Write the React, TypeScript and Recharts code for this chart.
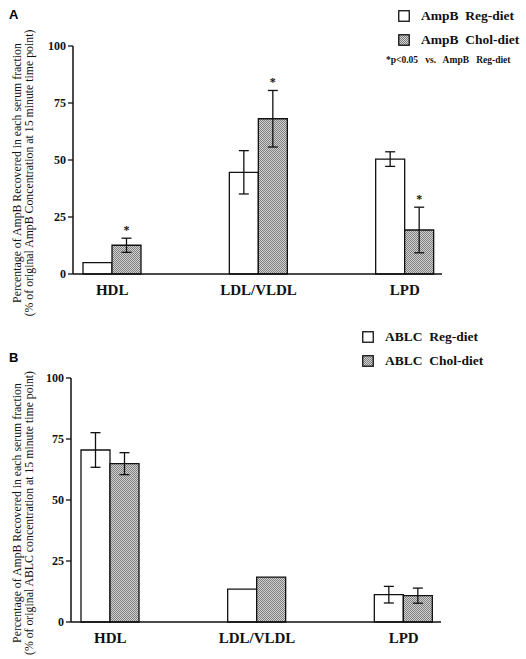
import {Bar, BarChart, ErrorBar, LabelList, XAxis, YAxis} from 'recharts';

const fractions = ['HDL', 'LDL/VLDL', 'LPD'];
const yTicks = [0, 25, 50, 75, 100];

// panel A (AmpB)
const ampbReg = [5, 44.6, 50.4];
const ampbRegErr = [null, 9.5, 3.2];
const ampbChol = [12.6, 68.1, 19.3];
const ampbCholErr = [3.1, 12.4, 10];
const ampbCholSig = [true, true, true];

// panel B (ABLC)
const ablcReg = [70.5, 13.5, 11.2];
const ablcRegErr = [7.1, null, 3.4];
const ablcChol = [64.9, 18.4, 10.8];
const ablcCholErr = [4.5, null, 3.1];
const ablcCholSig = [false, false, false];

const SERIF = '"Liberation Serif", "Times New Roman", serif';

const buildRows = (reg: number[], regErr: (number | null)[], chol: number[], cholErr: (number | null)[], sig: boolean[]) =>
  fractions.map((name, i) => ({
    name,
    reg: reg[i],
    regErr: regErr[i],
    chol: chol[i],
    cholErr: cholErr[i],
    sig: sig[i],
  }));

const panelA = buildRows(ampbReg, ampbRegErr, ampbChol, ampbCholErr, ampbCholSig);
const panelB = buildRows(ablcReg, ablcRegErr, ablcChol, ablcCholErr, ablcCholSig);

function YLabel(line1: string, line2: string) {
  return (props: any) => {
    const vb = props.viewBox;
    const cy = vb.y + vb.height / 2 + 13;
    const x1 = 21;
    const x2 = 33;
    return (
      <g fontFamily={SERIF} fontSize={11.8} fill="#111">
        <text x={x1} y={cy} textAnchor="middle" transform={`rotate(-90, ${x1}, ${cy})`}>{line1}</text>
        <text x={x2} y={cy} textAnchor="middle" transform={`rotate(-90, ${x2}, ${cy})`}>{line2}</text>
      </g>
    );
  };
}

function Asterisk(rows: typeof panelA) {
  return (props: any) => {
    const {x, y, width, height, index} = props;
    const row = rows[index];
    if (!row || !row.sig || !row.chol) return null;
    const perUnit = height / row.chol;
    const top = y - (row.cholErr ?? 0) * perUnit;
    return (
      <text x={x + width / 2} y={top - 4} textAnchor="middle" fontFamily={SERIF} fontWeight="bold" fontSize={12} fill="#111">*</text>
    );
  };
}

function LegendBox({labels, note, top, left}: {labels: string[]; note?: string; top: number; left: number}) {
  return (
    <div style={{position: 'absolute', top, left, fontFamily: SERIF, fontWeight: 'bold', fontSize: 13.5, color: '#111'}}>
      {labels.map((lab, i) => (
        <div key={lab} style={{display: 'flex', alignItems: 'center', height: 24}}>
          <svg width={12} height={12} style={{marginRight: 11}}>
            <rect x={0.75} y={0.75} width={10.5} height={10.5} fill={i === 0 ? '#fff' : 'url(#hatch)'} stroke="#111" strokeWidth={1.3} />
          </svg>
          <span style={{whiteSpace: 'pre'}}>{lab}</span>
        </div>
      ))}
      {note && (
        <div style={{fontSize: 9.5, marginTop: 3, marginLeft: -12, whiteSpace: 'pre'}}>{note}</div>
      )}
    </div>
  );
}

function Panel({rows, letter, label2, legend, note, top, height, legendTop, legendLeft}: any) {
  const isA = letter === 'A';
  return (
    <div style={{position: 'absolute', left: 0, top, width: 526, height}}>
      <div style={{position: 'absolute', left: 9, top: isA ? 7 : 20, fontFamily: '"Liberation Sans", Arial, sans-serif', fontWeight: 'bold', fontSize: 13}}>{letter}</div>
      <BarChart
        width={526}
        height={height}
        data={rows}
        margin={{top: isA ? 46 : 48, right: isA ? 84 : 85, left: 0, bottom: isA ? 26 : 7}}
        barGap={0}
        barSize={29}
      >
        <defs>
          <pattern id="hatch" width={2} height={2} patternUnits="userSpaceOnUse">
            <rect width={2} height={2} fill="#d2d2d2" />
            <rect width={1} height={1} fill="#7e7e7e" />
            <rect x={1} y={1} width={1} height={1} fill="#7e7e7e" />
          </pattern>
        </defs>
        <XAxis
          dataKey="name"
          axisLine={{stroke: '#111', strokeWidth: 1.5}}
          tickLine={false}
          tickMargin={4}
          height={30}
          padding={{left: -34, right: -36}}
          tick={{fontFamily: SERIF, fontWeight: 'bold', fontSize: 15, fill: '#111'}}
        />
        <YAxis
          width={isA ? 73 : 71}
          domain={[0, 100]}
          ticks={yTicks}
          interval={0}
          axisLine={{stroke: '#111', strokeWidth: 1.5}}
          tickLine={{stroke: '#111', strokeWidth: 1.3}}
          tickSize={5}
          tickMargin={2}
          tick={{fontFamily: SERIF, fontWeight: 'bold', fontSize: 12, fill: '#111'}}
          label={YLabel('Percentage of AmpB Recovered in each serum fraction', label2)}
        />
        <Bar dataKey="reg" name={legend[0]} fill="#fff" stroke="#111" strokeWidth={1.3} isAnimationActive={false}>
          <ErrorBar dataKey="regErr" width={5} stroke="#111" strokeWidth={1.3} />
        </Bar>
        <Bar dataKey="chol" name={legend[1]} fill="url(#hatch)" stroke="#111" strokeWidth={1.3} isAnimationActive={false}>
          <ErrorBar dataKey="cholErr" width={5} stroke="#111" strokeWidth={1.3} />
          <LabelList dataKey="chol" content={Asterisk(rows)} />
        </Bar>
      </BarChart>
      <LegendBox labels={legend} note={note} top={legendTop} left={legendLeft} />
    </div>
  );
}

export default function App() {
  return (
    <div style={{position: 'fixed', left: 0, top: 0, width: 526, height: 659, background: '#fff'}}>
      <Panel
        rows={panelA}
        letter="A"
        top={0}
        height={330}
        label2="(% of original AmpB Concentration at 15 minute time point)"
        legend={['AmpB  Reg-diet', 'AmpB  Chol-diet']}
        note="*p<0.05   vs.   AmpB   Reg-diet"
        legendTop={4}
        legendLeft={398}
      />
      <Panel
        rows={panelB}
        letter="B"
        top={330}
        height={329}
        label2="(% of original ABLC concentration at 15 minute time point)"
        legend={['ABLC  Reg-diet', 'ABLC  Chol-diet']}
        legendTop={-5}
        legendLeft={362}
      />
    </div>
  );
}
